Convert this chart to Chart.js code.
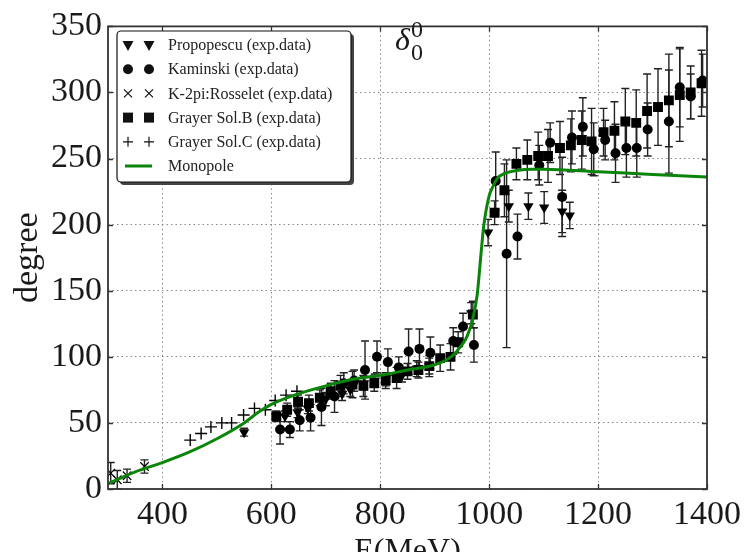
<!DOCTYPE html>
<html>
<head>
<meta charset="utf-8">
<script src="https://cdn.jsdelivr.net/npm/chart.js@4.4.0/dist/chart.umd.min.js"></script>
<style>
  html, body { margin: 0; padding: 0; background: #fff; }
</style>
</head>
<body>
<canvas id="myChart" width="747" height="552"></canvas>
<script>
// axis ticks
let xTicks = [400, 600, 800, 1000, 1200, 1400];

// Propopescu (exp.data)
let propE = [550, 625, 648, 667, 700, 730, 745, 770, 790, 810, 840, 867, 890, 967, 998, 1036, 1072, 1101, 1134, 1148];
let propV = [43, 55, 58, 61, 68, 72, 75, 80, 82, 83, 86, 91, 93, 133, 194, 214, 214, 213, 210, 207];
let propErr = [3, 4, 4, 4, 5, 5, 5, 5, 5, 5, 5, 6, 6, 8, 10, 12, 10, 12, 16, 10];

// Kaminski (exp.data)
let kamE = [616, 634, 652, 672, 692, 716, 733, 752, 772, 794, 814, 834, 852, 872, 892, 934, 952, 972, 1012, 1032, 1052, 1092, 1112, 1134, 1152, 1172, 1192, 1213, 1232, 1252, 1271, 1291, 1330, 1350, 1370, 1392];
let kamV = [45, 45, 52, 54, 62, 70, 80, 82, 90, 100, 96, 92, 104, 106, 103, 112, 123, 109, 233, 178, 191, 245, 262, 221, 266, 274, 257, 264, 254, 258, 258, 272, 278, 304, 297, 309];
let kamErr = [11, 6, 8, 10, 14, 12, 8, 8, 22, 12, 10, 8, 17, 15, 12, 10, 10, 13, 22, 71, 17, 15, 15, 30, 20, 22, 20, 15, 22, 22, 22, 20, 39, 30, 17, 20];

// K-2pi:Rosselet (exp.data)
let rosE = [305, 317, 335, 367];
let rosV = [12, 7, 10, 17];
let rosErr = [8, 7, 5, 5];

// Grayer Sol.B (exp.data)
let grbE = [609, 629, 649, 669, 689, 709, 727, 749, 769, 789, 810, 830, 850, 870, 890, 910, 929, 943, 970, 1010, 1028, 1050, 1070, 1090, 1108, 1130, 1150, 1170, 1188, 1210, 1230, 1250, 1270, 1290, 1310, 1330, 1350, 1370, 1390];
let grbV = [55, 60, 66, 65, 69, 74, 78, 79, 78, 80, 82, 84, 89, 90, 93, 99, 100, 111, 132, 209, 226, 246, 249, 252, 252, 258, 260, 264, 263, 270, 271, 278, 277, 286, 289, 294, 298, 300, 307];
let grbErr = [4, 5, 5, 6, 6, 6, 8, 10, 8, 6, 6, 8, 6, 6, 8, 10, 10, 8, 10, 9, 20, 12, 15, 18, 20, 20, 20, 22, 25, 18, 22, 25, 25, 28, 29, 35, 35, 20, 25];

// Grayer Sol.C (exp.data)
let grcE = [451, 471, 489, 509, 527, 549, 569, 589, 607, 627, 647];
let grcV = [37, 42, 47, 50, 50, 56, 61, 60, 67, 71, 74];

// Monopole curve
let monoE = [300, 350, 400, 450, 500, 550, 576, 600, 650, 700, 750, 800, 850, 900, 930, 950, 960, 970, 978, 985, 990, 1000, 1006, 1015, 1030, 1050, 1080, 1100, 1200, 1300, 1400];
let monoV = [4, 13, 20, 28, 38, 50, 58, 64, 72, 78, 83, 86, 90, 94, 100, 109, 116, 129, 147, 178, 199, 222, 228, 235, 239, 241, 242, 242, 240, 238, 236];

let serif = '"Liberation Serif", "DejaVu Serif", serif';
let green = '#0a850a';
let ink = '#1a1a1a';

function pts(xs, ys) {
  return xs.map((x, i) => ({x: x, y: ys[i]}));
}

// error bars, drawn under the markers
let errorBars = {
  id: 'errorBars',
  beforeDatasetsDraw(chart) {
    let c = chart.ctx, xs = chart.scales.x, ys = chart.scales.y, a = chart.chartArea;
    c.save();
    c.beginPath();
    c.rect(a.left, a.top, a.right - a.left, a.bottom - a.top);
    c.clip();
    c.strokeStyle = '#222';
    c.lineWidth = 1.4;
    chart.data.datasets.forEach(ds => {
      if (!ds.errs) return;
      ds.data.forEach((p, i) => {
        let e = ds.errs[i];
        let px = xs.getPixelForValue(p.x);
        let y1 = ys.getPixelForValue(p.y - e);
        let y2 = ys.getPixelForValue(p.y + e);
        c.beginPath();
        c.moveTo(px, y1); c.lineTo(px, y2);
        c.moveTo(px - 4, y1); c.lineTo(px + 4, y1);
        c.moveTo(px - 4, y2); c.lineTo(px + 4, y2);
        c.stroke();
      });
    });
    c.restore();
  }
};

function marker(c, kind, x, y) {
  c.beginPath();
  if (kind === 'tri') {
    c.moveTo(x - 5.5, y - 4); c.lineTo(x + 5.5, y - 4); c.lineTo(x, y + 6); c.closePath(); c.fill();
  } else if (kind === 'circ') {
    c.arc(x, y, 5, 0, Math.PI * 2); c.fill();
  } else if (kind === 'x') {
    c.moveTo(x - 4, y - 4); c.lineTo(x + 4, y + 4);
    c.moveTo(x - 4, y + 4); c.lineTo(x + 4, y - 4); c.stroke();
  } else if (kind === 'sq') {
    c.fillRect(x - 5, y - 5, 10, 10);
  } else if (kind === 'plus') {
    c.moveTo(x - 5, y); c.lineTo(x + 5, y);
    c.moveTo(x, y - 5); c.lineTo(x, y + 5); c.stroke();
  }
}

// frame, inward ticks, legend box and the delta title
let decor = {
  id: 'decor',
  afterDraw(chart) {
    let c = chart.ctx, a = chart.chartArea, xs = chart.scales.x, ys = chart.scales.y;
    c.save();
    c.strokeStyle = '#333';
    c.lineWidth = 1.3;
    c.beginPath();
    xs.ticks.forEach(t => {
      let px = Math.round(xs.getPixelForValue(t.value)) + 0.5;
      c.moveTo(px, a.bottom); c.lineTo(px, a.bottom - 5);
      c.moveTo(px, a.top); c.lineTo(px, a.top + 5);
    });
    ys.ticks.forEach(t => {
      let py = Math.round(ys.getPixelForValue(t.value)) + 0.5;
      c.moveTo(a.left, py); c.lineTo(a.left + 5, py);
      c.moveTo(a.right, py); c.lineTo(a.right - 5, py);
    });
    c.stroke();
    c.lineWidth = 1.8;
    c.strokeRect(a.left, a.top, a.right - a.left, a.bottom - a.top);

    // legend
    let bx = 117, by = 31, bw = 234, bh = 151;
    c.fillStyle = '#444';
    c.beginPath(); c.roundRect(bx + 3, by + 3, bw, bh, 4); c.fill();
    c.fillStyle = '#fff';
    c.beginPath(); c.roundRect(bx, by, bw, bh, 4); c.fill();
    c.strokeStyle = '#111';
    c.lineWidth = 1.2;
    c.stroke();

    let rows = [
      ['tri', 'Propopescu (exp.data)'],
      ['circ', 'Kaminski (exp.data)'],
      ['x', 'K-2pi:Rosselet (exp.data)'],
      ['sq', 'Grayer Sol.B (exp.data)'],
      ['plus', 'Grayer Sol.C (exp.data)'],
      ['line', 'Monopole']
    ];
    c.font = '16px ' + serif;
    c.textBaseline = 'middle';
    c.textAlign = 'left';
    rows.forEach((r, i) => {
      let y = 45 + i * 24.2;
      c.fillStyle = '#111';
      c.strokeStyle = '#111';
      c.lineWidth = 1.2;
      if (r[0] === 'line') {
        c.strokeStyle = green;
        c.lineWidth = 3;
        c.beginPath(); c.moveTo(125, y); c.lineTo(152, y); c.stroke();
      } else {
        marker(c, r[0], 128, y);
        marker(c, r[0], 149, y);
      }
      c.fillStyle = '#222';
      c.fillText(r[1], 168, y + 1);
    });

    // delta_0^0
    c.fillStyle = ink;
    c.font = 'italic 32px ' + serif;
    c.textBaseline = 'alphabetic';
    c.fillText('\u03B4', 395, 50);
    c.font = '24px ' + serif;
    c.fillText('0', 411, 37);
    c.fillText('0', 411, 60);
    c.restore();
  }
};

let ctx = document.getElementById('myChart').getContext('2d');

let myChart = new Chart(ctx, {
  type: 'scatter',
  data: {
    datasets: [
      {
        label: 'Monopole',
        data: pts(monoE, monoV),
        showLine: true,
        borderColor: green,
        borderWidth: 3,
        pointRadius: 0,
        cubicInterpolationMode: 'monotone',
        order: 0
      },
      {
        label: 'Propopescu (exp.data)',
        data: pts(propE, propV),
        errs: propErr,
        pointStyle: 'triangle',
        rotation: 180,
        pointRadius: 6,
        backgroundColor: '#000',
        borderColor: '#000',
        borderWidth: 0,
        order: 1
      },
      {
        label: 'Kaminski (exp.data)',
        data: pts(kamE, kamV),
        errs: kamErr,
        pointStyle: 'circle',
        pointRadius: 5,
        backgroundColor: '#000',
        borderColor: '#000',
        borderWidth: 0,
        order: 1
      },
      {
        label: 'K-2pi:Rosselet (exp.data)',
        data: pts(rosE, rosV),
        errs: rosErr,
        pointStyle: 'crossRot',
        pointRadius: 6,
        borderColor: '#000',
        borderWidth: 1.2,
        order: 1
      },
      {
        label: 'Grayer Sol.B (exp.data)',
        data: pts(grbE, grbV),
        errs: grbErr,
        pointStyle: 'rect',
        pointRadius: 7,
        backgroundColor: '#000',
        borderColor: '#000',
        borderWidth: 0,
        order: 1
      },
      {
        label: 'Grayer Sol.C (exp.data)',
        data: pts(grcE, grcV),
        pointStyle: 'cross',
        pointRadius: 6,
        borderColor: '#000',
        borderWidth: 1.4,
        order: 1
      }
    ]
  },
  options: {
    responsive: false,
    animation: false,
    devicePixelRatio: 1,
    layout: { padding: { top: 22, right: 35, left: 0, bottom: 0 } },
    plugins: {
      legend: { display: false },
      tooltip: { enabled: false }
    },
    scales: {
      x: {
        type: 'linear',
        min: 300,
        max: 1400,
        afterBuildTicks: (scale) => { scale.ticks = xTicks.map(v => ({value: v})); },
        afterFit: (scale) => { scale.height = 63; },
        grid: { color: '#888', lineWidth: 1, drawTicks: false },
        border: { display: false, dash: [1.5, 3] },
        ticks: {
          autoSkip: false,
          maxRotation: 0,
          padding: 6,
          color: ink,
          font: { family: serif, size: 34 },
          callback: (v) => String(v)
        },
        title: {
          display: true,
          text: 'E(MeV)',
          color: ink,
          font: { family: serif, size: 32 },
          padding: { top: 0, bottom: -19 }
        }
      },
      y: {
        min: 0,
        max: 350,
        afterFit: (scale) => { scale.width = 108; },
        grid: { color: '#888', lineWidth: 1, drawTicks: false },
        border: { display: false, dash: [1.5, 3] },
        ticks: {
          stepSize: 50,
          padding: 6,
          color: ink,
          font: { family: serif, size: 34 },
          callback: (v) => String(v)
        },
        title: {
          display: true,
          text: 'degree',
          color: ink,
          font: { family: serif, size: 34 },
          padding: { top: 8, bottom: 0 }
        }
      }
    }
  },
  plugins: [errorBars, decor]
});
</script>
</body>
</html>
